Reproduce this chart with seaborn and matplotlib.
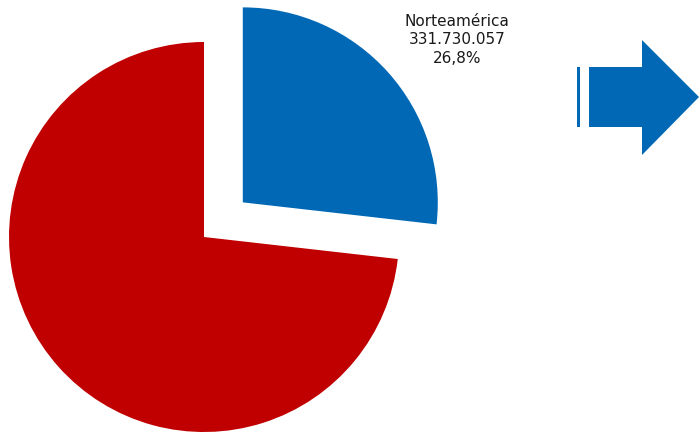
import matplotlib
matplotlib.use("Agg")
import matplotlib.pyplot as plt
from matplotlib.patches import Polygon, Rectangle
import seaborn as sns

# Data
regions = ["Norteamérica", "Resto"]
shares = [26.8, 73.2]
label_text = "Norteamérica\n331.730.057\n26,8%"
colors = ["#0068B5", "#C00000"]

sns.set_theme(style="white")
plt.rcParams["font.family"] = ["DejaVu Sans"]

W, H = 699, 432
fig = plt.figure(figsize=(W / 100, H / 100), dpi=100)
ax = fig.add_axes([0, 0, 1, 1])

# Pie (pixel-like coordinates, y up); explode is in data units here
ax.pie(
    shares,
    colors=colors,
    startangle=90,
    counterclock=False,
    explode=[52, 0],
    center=(204, H - 237),
    radius=195,
    wedgeprops={"linewidth": 0},
)

ax.text(457, H - 40, label_text, ha="center", va="center",
        fontsize=11, linespacing=1.3, color="#1a1a1a")

# Arrow decoration
blue = colors[0]
ax.add_patch(Rectangle((577, H - 127), 3, 60, color=blue, lw=0))
arrow = [(589, H - 67), (642, H - 67), (642, H - 40), (699, H - 97),
         (642, H - 155), (642, H - 127), (589, H - 127)]
ax.add_patch(Polygon(arrow, closed=True, color=blue, lw=0))

ax.set_xlim(0, W)
ax.set_ylim(0, H)
ax.set_aspect("equal")
ax.axis("off")

fig.savefig("out.png", dpi=100, facecolor="white")
